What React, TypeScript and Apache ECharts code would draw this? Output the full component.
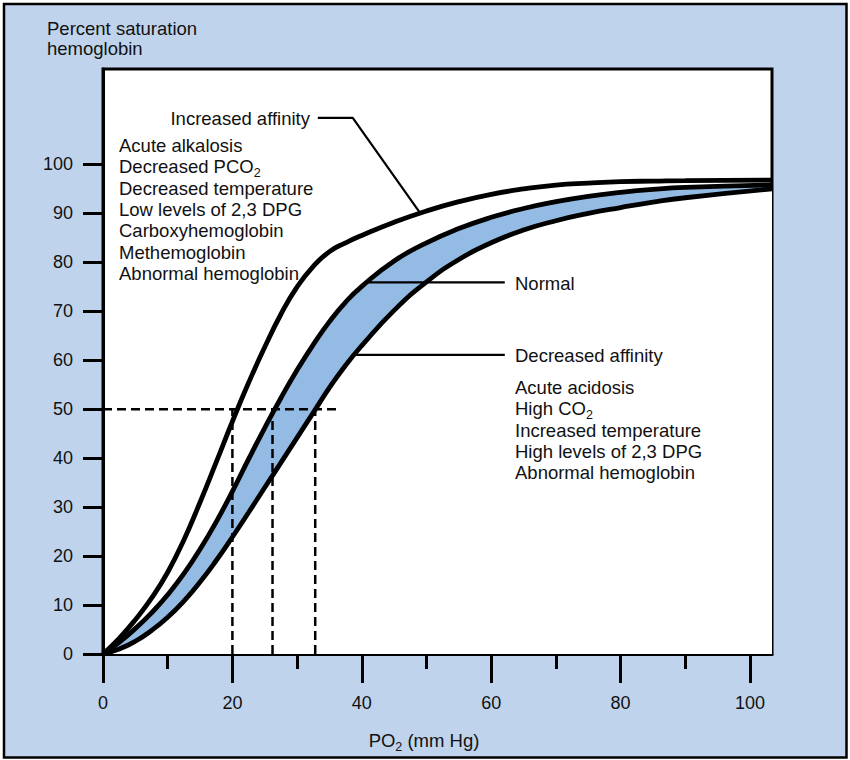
import React, { useEffect, useRef } from "react";
import * as echarts from "echarts";

// ---- Data ----
const po2 = [0, 2.5, 5, 7.5, 10, 12.5, 15, 17.5, 20, 22.5, 25, 27.5, 30, 32.5, 35, 37.5, 40, 45, 50, 55, 60, 65, 70, 75, 80, 85, 90, 103.4];
const increasedAffinity = [0, 3.2, 7.0, 11.4, 16.7, 23.3, 31.0, 39.2, 47.5, 55.4, 62.7, 69.4, 75.0, 79.2, 82.2, 84.0, 85.5, 88.2, 90.5, 92.4, 93.9, 95.0, 95.8, 96.2, 96.5, 96.6, 96.7, 96.8];
const normalCurve = [0, 2.4, 5.2, 8.4, 12.1, 16.4, 21.4, 27.0, 33.2, 39.8, 46.2, 52.3, 58.0, 63.2, 67.9, 71.9, 75.1, 80.3, 84.0, 86.9, 89.2, 91.0, 92.4, 93.5, 94.3, 94.9, 95.3, 95.8];
const decreasedAffinity = [0, 1.0, 2.6, 4.8, 7.5, 10.8, 14.7, 19.1, 23.9, 28.9, 34.0, 39.1, 44.2, 49.3, 54.4, 59.0, 63.0, 70.2, 76.0, 80.6, 84.0, 86.6, 88.5, 90.0, 91.2, 92.3, 93.2, 95.0];

const p50Values = [20, 26.2, 32.8];
const p50Level = 50;
const p50LineEnd = 36.2;

const xMajorTicks = [0, 20, 40, 60, 80, 100];
const xMinorTicks = [10, 30, 50, 70, 90];
const yTicks = [0, 10, 20, 30, 40, 50, 60, 70, 80, 90, 100];

const increasedLeader = [[33.2, 109.5], [38.6, 109.5], [49, 90.1]];
const normalLeader = [[40.8, 75.9], [62.1, 75.9]];
const decreasedLeader = [[38.7, 61.1], [62.1, 61.1]];

const yTitle = ["Percent saturation", "hemoglobin"];
const xTitle = "PO{s|2} (mm Hg)";
const increasedLabel = "Increased affinity";
const normalLabel = "Normal";
const decreasedLabel = "Decreased affinity";
const leftNotes = [
  "Acute alkalosis",
  "Decreased PCO{s|2}",
  "Decreased temperature",
  "Low levels of 2,3 DPG",
  "Carboxyhemoglobin",
  "Methemoglobin",
  "Abnormal hemoglobin",
];
const rightNotes = [
  "Acute acidosis",
  "High CO{s|2}",
  "Increased temperature",
  "High levels of 2,3 DPG",
  "Abnormal hemoglobin",
];

// ---- Styles ----
const FONT = '"Liberation Sans", Arial, Helvetica, sans-serif';
const TEXT_COLOR = "#111";
const BG = "#BFD4EC";
const BAND = "#94BBE3";
const FS = 18.5;

function toRich(str: string) {
  const parts = str.split(/(\{s\|[^}]*\})/).filter((p) => p.length > 0);
  return parts.map((p) => (p.startsWith("{s|") ? p : "{m|" + p + "}")).join("");
}

const richStyles = {
  m: { fontSize: FS, fontFamily: FONT, fill: TEXT_COLOR, color: TEXT_COLOR, lineHeight: 18, verticalAlign: "top" },
  s: { fontSize: 12.5, fontFamily: FONT, fill: TEXT_COLOR, color: TEXT_COLOR, lineHeight: 22, verticalAlign: "bottom" },
};

function textEl(str: string, x: number, y: number, align: string) {
  const hasSub = str.indexOf("{s|") >= 0;
  return {
    type: "text",
    x,
    y: hasSub ? y + 2 : y,
    z: 20,
    style: {
      text: toRich(str),
      rich: richStyles,
      fontSize: FS,
      fontFamily: FONT,
      fill: TEXT_COLOR,
      align,
      textAlign: align,
      verticalAlign: "middle",
      textVerticalAlign: "middle",
    },
  };
}

export default function App() {
  const ref = useRef<HTMLDivElement>(null);

  useEffect(() => {
    if (!ref.current) return;
    const chart = echarts.init(ref.current, undefined, { renderer: "svg" });

    const pts = (ys: number[]) => po2.map((x, i) => [x, ys[i]]);

    const curveStyle = { color: "#000", width: 4.8 };
    const dashStyle = { color: "#000", width: 2.5, type: [9, 5] as any };
    const leaderStyle = { color: "#000", width: 2.2 };
    const SMOOTH = 0.5;

    const series: any[] = [
      // blue band: fill under the normal curve, then mask under the decreased-affinity curve
      {
        type: "line",
        data: pts(normalCurve),
        smooth: SMOOTH,
        symbol: "none",
        lineStyle: { width: 0, opacity: 0 },
        areaStyle: { color: BAND, opacity: 1 },
        z: 1,
        silent: true,
      },
      {
        type: "line",
        data: pts(decreasedAffinity),
        smooth: SMOOTH,
        symbol: "none",
        lineStyle: { width: 0, opacity: 0 },
        areaStyle: { color: "#fff", opacity: 1 },
        z: 1,
        silent: true,
      },
      {
        type: "line",
        data: [[0, p50Level], [p50LineEnd, p50Level]],
        symbol: "none",
        lineStyle: dashStyle,
        z: 3,
        silent: true,
      },
      ...p50Values.map((v) => ({
        type: "line",
        data: [[v, 0], [v, p50Level]],
        symbol: "none",
        lineStyle: dashStyle,
        z: 3,
        silent: true,
      })),
      {
        type: "line",
        name: "Increased affinity",
        data: pts(increasedAffinity),
        smooth: SMOOTH,
        symbol: "none",
        lineStyle: curveStyle,
        z: 4,
      },
      {
        type: "line",
        name: "Normal",
        data: pts(normalCurve),
        smooth: SMOOTH,
        symbol: "none",
        lineStyle: curveStyle,
        z: 4,
      },
      {
        type: "line",
        name: "Decreased affinity",
        data: pts(decreasedAffinity),
        smooth: SMOOTH,
        symbol: "none",
        lineStyle: curveStyle,
        z: 4,
      },
      { type: "line", data: increasedLeader, symbol: "none", lineStyle: leaderStyle, z: 5, silent: true },
      { type: "line", data: normalLeader, symbol: "none", lineStyle: leaderStyle, z: 5, silent: true },
      { type: "line", data: decreasedLeader, symbol: "none", lineStyle: leaderStyle, z: 5, silent: true },
    ];

    const lineH = 21.3;
    const graphics: any[] = [
      { type: "rect", shape: { x: 0, y: 0, width: 850, height: 760 }, style: { fill: "none", stroke: "#fff", lineWidth: 6 }, z: 30 },
      { type: "rect", shape: { x: 4, y: 4, width: 842.5, height: 753.5 }, style: { fill: "none", stroke: "#000", lineWidth: 2.5 }, z: 30 },
      textEl(yTitle[0], 47, 28, "left"),
      textEl(yTitle[1], 47, 48, "left"),
      textEl(xTitle, 424, 740, "center"),
      textEl(increasedLabel, 310, 118, "right"),
      textEl(normalLabel, 515, 283, "left"),
      textEl(decreasedLabel, 515, 355, "left"),
      ...leftNotes.map((t, i) => textEl(t, 119, 145 + i * lineH, "left")),
      ...rightNotes.map((t, i) => textEl(t, 515, 387 + i * lineH, "left")),
    ];

    const option: any = {
      animation: false,
      backgroundColor: BG,
      grid: {
        left: 103,
        right: 78,
        top: 69,
        bottom: 106,
        show: true,
        backgroundColor: "#fff",
        borderColor: "#000",
        borderWidth: 3,
      },
      xAxis: [
        {
          type: "value",
          min: 0,
          max: 103.4,
          position: "bottom",
          axisLine: { show: true, onZero: false, lineStyle: { color: "#000", width: 3 } },
          axisTick: { show: true, customValues: xMajorTicks, length: 29, lineStyle: { color: "#000", width: 3 } },
          axisLabel: { show: true, customValues: xMajorTicks, margin: 40, fontSize: 18, color: TEXT_COLOR, fontFamily: FONT },
          splitLine: { show: false },
        },
        {
          type: "value",
          min: 0,
          max: 103.4,
          position: "bottom",
          axisLine: { show: false, onZero: false },
          axisTick: { show: true, customValues: xMinorTicks, length: 15, lineStyle: { color: "#000", width: 3 } },
          axisLabel: { show: false },
          splitLine: { show: false },
        },
      ],
      yAxis: {
        type: "value",
        min: 0,
        max: 119.5,
        axisLine: { show: true, onZero: false, lineStyle: { color: "#000", width: 3 } },
        axisTick: { show: true, customValues: yTicks, length: 20, lineStyle: { color: "#000", width: 3 } },
        axisLabel: { show: true, customValues: yTicks, margin: 30, fontSize: 18, color: TEXT_COLOR, fontFamily: FONT },
        splitLine: { show: false },
      },
      series,
      graphic: { elements: graphics },
    };

    chart.setOption(option);
    return () => chart.dispose();
  }, []);

  return (
    <div
      ref={ref}
      style={{ position: "fixed", left: 0, top: 0, width: 850, height: 760 }}
    />
  );
}
